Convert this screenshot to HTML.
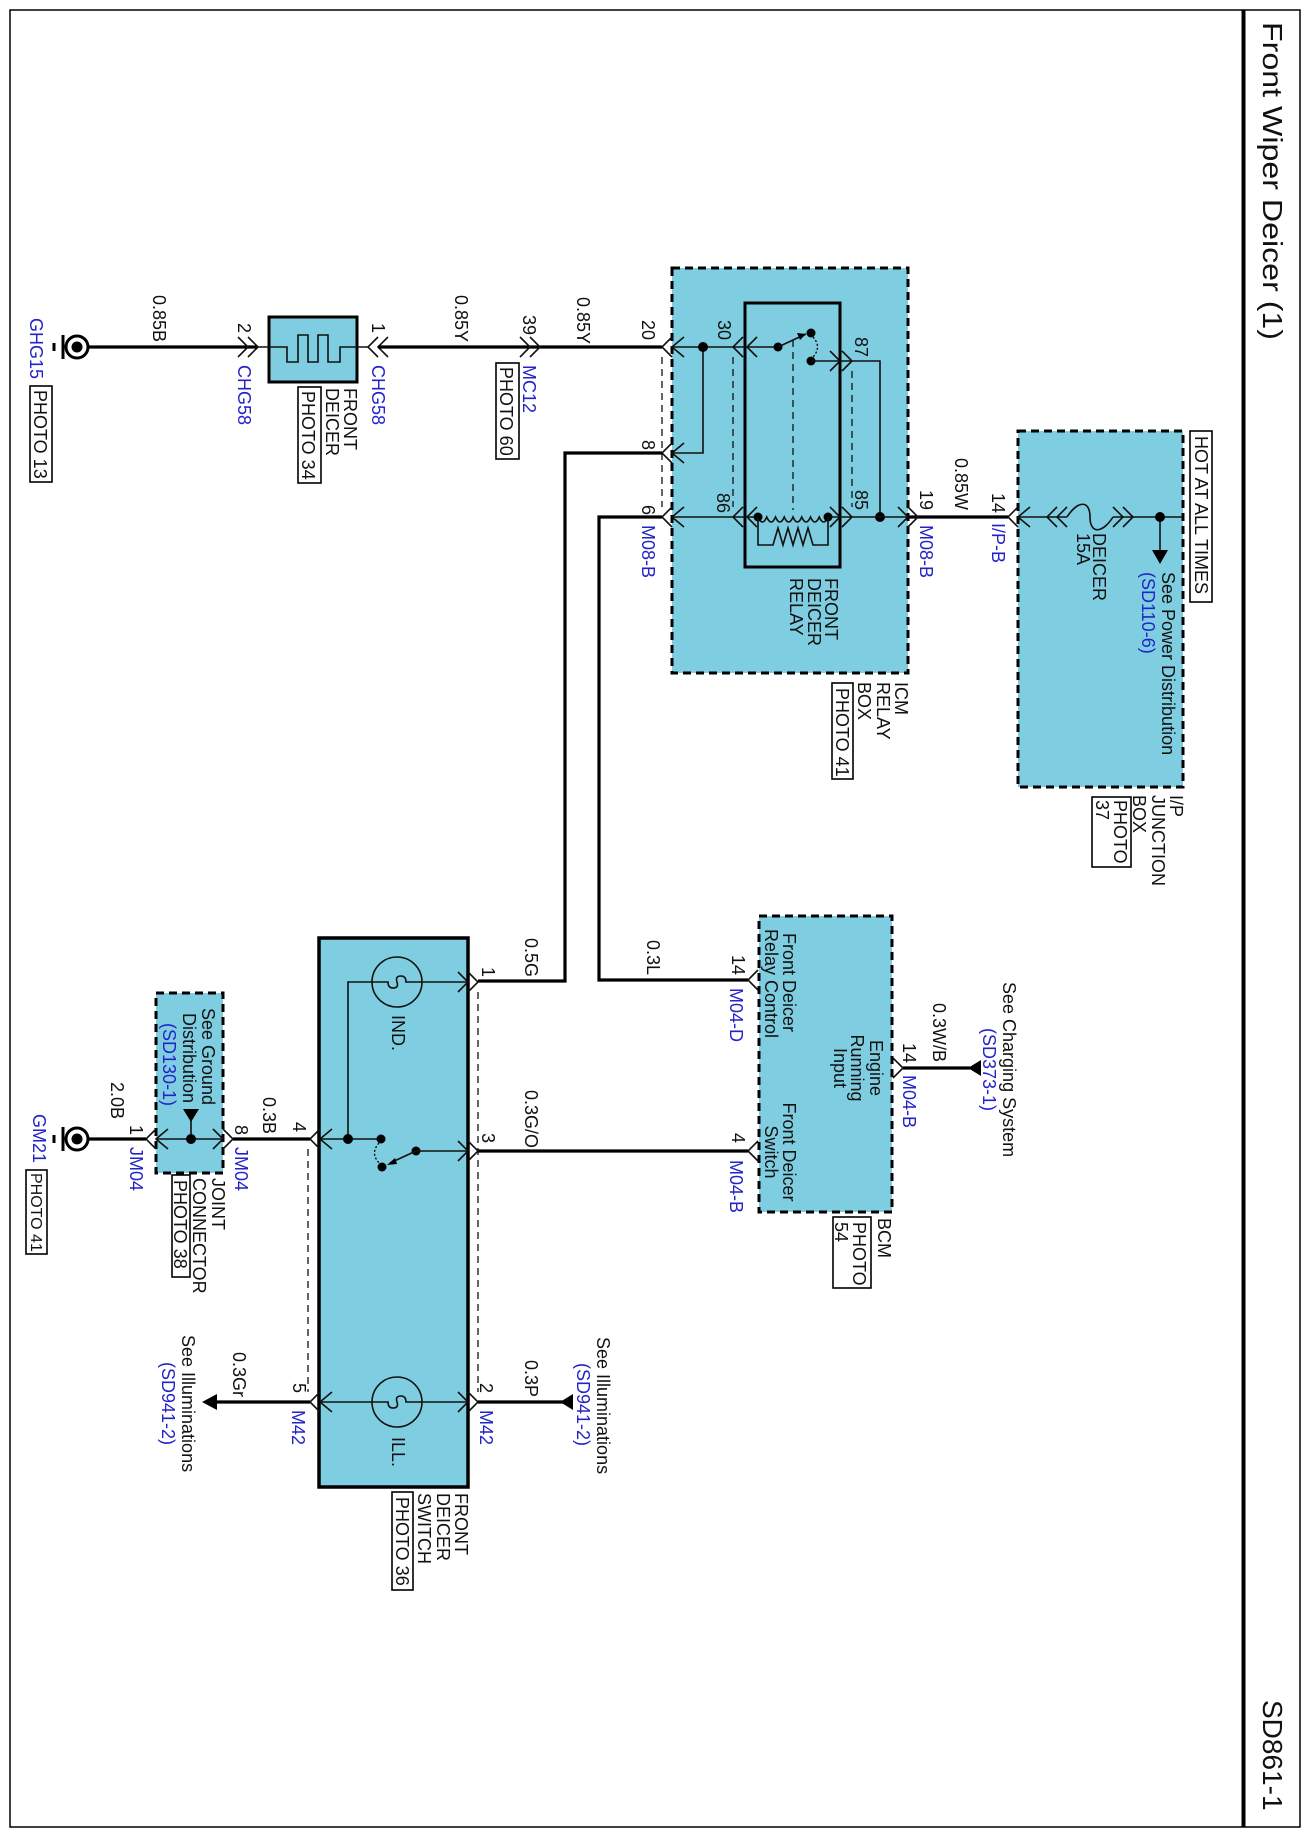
<!DOCTYPE html>
<html><head><meta charset="utf-8"><style>
html,body{margin:0;padding:0;background:#fff}
svg{display:block}
text{font-family:"Liberation Sans",Arial,sans-serif;font-size:18px;fill:#111}
.b{fill:#2323c8}
.t{font-size:28px}
.thin{stroke:#111;stroke-width:1.6;fill:none}
.w{stroke:#000;stroke-width:3.2;fill:none}
.d{stroke:#111;stroke-width:1.3;fill:none;stroke-dasharray:7,5}
.box{fill:#7fcde0;stroke:#000;stroke-width:3;stroke-dasharray:8,5}
.ph{fill:none;stroke:#000;stroke-width:1.6}
</style></head><body>
<svg width="1308" height="1836" viewBox="0 0 1308 1836" xmlns="http://www.w3.org/2000/svg">
<!-- frame -->
<rect x="10" y="10" width="1290" height="1817" fill="none" stroke="#000" stroke-width="1.5"/>
<line x1="1243.5" y1="10" x2="1243.5" y2="1827" stroke="#000" stroke-width="4"/>
<text class="t" transform="translate(1263,22) rotate(90)" textLength="318" lengthAdjust="spacingAndGlyphs">Front Wiper Deicer (1)</text>
<text class="t" transform="translate(1263,1700) rotate(90)">SD861-1</text>

<!-- component boxes -->
<rect class="box" x="672" y="268" width="236" height="405"/>
<rect class="box" x="1018" y="431" width="165" height="356"/>
<rect class="box" x="759" y="916" width="133" height="296"/>
<rect class="box" x="156" y="993" width="67" height="180"/>
<rect x="319" y="938" width="149" height="549" fill="#7fcde0" stroke="#000" stroke-width="3.5"/>
<rect x="269" y="317" width="88" height="65" fill="#7fcde0" stroke="#000" stroke-width="3"/>
<rect x="745" y="303" width="95" height="264" fill="none" stroke="#000" stroke-width="3"/>

<!-- ground GHG15 -->
<g>
<circle cx="77" cy="347" r="11" fill="#fff" stroke="#000" stroke-width="3"/>
<circle cx="77" cy="347" r="5.5" fill="#000"/>
<line x1="63" y1="335" x2="63" y2="359" stroke="#000" stroke-width="3"/>
<line x1="54" y1="343" x2="54" y2="351" stroke="#000" stroke-width="3"/>
</g>
<!-- ground GM21 -->
<g>
<circle cx="77" cy="1139" r="11" fill="#fff" stroke="#000" stroke-width="3"/>
<circle cx="77" cy="1139" r="5.5" fill="#000"/>
<line x1="63" y1="1127" x2="63" y2="1151" stroke="#000" stroke-width="3"/>
<line x1="54" y1="1135" x2="54" y2="1143" stroke="#000" stroke-width="3"/>
</g>

<!-- top wire -->
<path class="w" d="M89,347 H258"/>
<path class="thin" d="M238,337 L248,347 L238,357 M248,337 L258,347 L248,357"/>
<path class="thin" d="M258,347 H287 V362 H298 V335 H308 V362 H318 V335 H328 V362 H340 V347 H368"/>
<path class="thin" d="M378,337 L368,347 L378,357 M388,337 L378,347 L388,357"/>
<path class="w" d="M378,347 H662"/>
<path class="thin" d="M520,337 L530,347 L520,357 M530,337 L540,347 L530,357"/>

<!-- ICM relay box internals -->
<path class="thin" d="M672,337 L662,347 L672,357 M684,337 L672,347 L684,357"/>
<path class="thin" d="M672,443 L662,453 L672,463 M684,443 L672,453 L684,463"/>
<path class="thin" d="M672,507 L662,517 L672,527 M684,507 L672,517 L684,527"/>
<path class="thin" d="M672,347 H778 M703,347 V453 H672"/>
<circle cx="703" cy="347" r="5" fill="#000"/>
<path class="thin" d="M743,337 L733,347 L743,357 M757,337 L747,347 L757,357"/>
<circle cx="778" cy="347" r="4.5" fill="#000"/>
<path class="thin" d="M778,347 L806,334"/>
<path d="M806,334 L797,333 L800,340 Z" fill="#000"/>
<circle cx="811" cy="333" r="4.5" fill="#000"/>
<circle cx="811" cy="361" r="4.5" fill="#000"/>
<path d="M813,337 Q822,347 813,357" fill="none" stroke="#000" stroke-width="1.3" stroke-dasharray="2,2"/>
<path class="thin" d="M811,361 H880 V517 M830,351 L840,361 L830,371 M842,351 L852,361 L842,371"/>
<circle cx="880" cy="517" r="5" fill="#000"/>
<path class="thin" d="M672,517 H758 M743,507 L733,517 L743,527 M757,507 L747,517 L757,527"/>
<path class="thin" d="M758,517 q4.4,10 8.75,0 q4.4,10 8.75,0 q4.4,10 8.75,0 q4.4,10 8.75,0 q4.4,10 8.75,0 q4.4,10 8.75,0 q4.4,10 8.75,0 q4.4,10 8.75,0"/>
<circle cx="758" cy="517" r="4.5" fill="#000"/>
<circle cx="828" cy="517" r="4.5" fill="#000"/>
<path class="thin" d="M758,517 V545 H773 L778,528 L783,545 L788,528 L793,545 L798,528 L803,545 L808,528 L813,545 H828 V517"/>
<path class="thin" d="M828,517 H908 M830,507 L840,517 L830,527 M842,507 L852,517 L842,527"/>
<path class="thin" d="M898,507 L908,517 L898,527"/>
<path class="d" d="M662,357 V507 M733,357 V507 M793,340 V510 M852,371 V507"/>

<!-- wires from ICM -->
<path class="w" d="M662,453 H565 V981 H478"/>
<path class="w" d="M662,517 H599 V980 H748"/>
<path class="w" d="M908,517 H1008"/>
<path class="thin" d="M908,507 L918,517 L908,527"/>
<path class="thin" d="M1018,507 L1008,517 L1018,527 M1030,507 L1018,517 L1030,527"/>

<!-- I/P junction internals -->
<path class="thin" d="M1018,517 H1067"/>
<path class="thin" d="M1057,507 L1047,517 L1057,527 M1067,507 L1057,517 L1067,527"/>
<path class="thin" d="M1067,517 C1078,500 1090,500 1090,517 C1090,534 1102,534 1113,517"/>
<path class="thin" d="M1113,507 L1123,517 L1113,527 M1123,507 L1133,517 L1123,527"/>
<path class="thin" d="M1113,517 H1183 M1160,517 V551"/>
<circle cx="1160" cy="517" r="5" fill="#000"/>
<path d="M1152,550 H1168 L1160,564 Z" fill="#000"/>
<rect class="ph" x="1190" y="431" width="22" height="171" fill="#fff"/>

<!-- BCM -->
<path class="thin" d="M758,970 L748,980 L758,990"/>
<path class="thin" d="M758,1141 L748,1151 L758,1161"/>
<path class="thin" d="M893,1058 L903,1068 L893,1078"/>
<path class="w" d="M903,1068 H970"/>
<path d="M968,1068 L981,1060 L981,1076 Z" fill="#000"/>

<!-- switch -->
<path class="w" d="M478,1151 H748"/>
<path class="thin" d="M458,972 L468,982 L458,992 M468,972 L478,982 L468,992"/>
<path class="thin" d="M458,1141 L468,1151 L458,1161 M468,1141 L478,1151 L468,1161"/>
<path class="thin" d="M458,1392 L468,1402 L458,1412 M468,1392 L478,1402 L468,1412"/>
<path class="thin" d="M320,1129 L310,1139 L320,1149 M332,1129 L320,1139 L332,1149"/>
<path class="thin" d="M320,1392 L310,1402 L320,1412 M332,1392 L320,1402 L332,1412"/>
<circle cx="397" cy="982" r="25" fill="none" stroke="#111" stroke-width="1.6"/>
<path class="thin" d="M468,982 H406 q0,-6 -5,-6 q-6,0 -4,6 q2,6 -4,6 q-5,0 -5,-6 H348 V1139"/>
<circle cx="397" cy="1402" r="25" fill="none" stroke="#111" stroke-width="1.6"/>
<path class="thin" d="M468,1402 H406 q0,-6 -5,-6 q-6,0 -4,6 q2,6 -4,6 q-5,0 -5,-6 H320"/>
<path class="thin" d="M320,1139 H381"/>
<circle cx="348" cy="1139" r="5" fill="#000"/>
<circle cx="381" cy="1139" r="4.5" fill="#000"/>
<circle cx="382" cy="1167" r="4.5" fill="#000"/>
<circle cx="416" cy="1151" r="4.5" fill="#000"/>
<path d="M379,1143 Q370,1153 379,1163" fill="none" stroke="#000" stroke-width="1.3" stroke-dasharray="2,2"/>
<path class="thin" d="M416,1151 L390,1163 M416,1151 H468"/>
<path d="M387,1165 L395,1158 L397,1164 Z" fill="#000"/>
<path class="d" d="M308,1149 V1392 M478,992 V1392"/>
<path class="w" d="M310,1402 H216"/>
<path d="M202,1402 L217,1394 L217,1410 Z" fill="#000"/>
<path class="w" d="M478,1402 H572"/>
<path d="M560,1402 L573,1394 L573,1410 Z" fill="#000"/>

<!-- joint connector -->
<path class="w" d="M310,1139 H233"/>
<path class="thin" d="M223,1129 L233,1139 L223,1149 M213,1129 L223,1139 L213,1149"/>
<path class="thin" d="M156,1139 H223 M191,1139 V1118"/>
<circle cx="191" cy="1139" r="5" fill="#000"/>
<path d="M183,1109 H199 L191,1122 Z" fill="#000"/>
<path class="thin" d="M156,1129 L146,1139 L156,1149 M168,1129 L156,1139 L168,1149"/>
<path class="w" d="M146,1139 H89"/>

<!-- photo boxes -->
<rect class="ph" x="30" y="386" width="22" height="96"/>
<rect class="ph" x="298" y="387" width="23" height="96"/>
<rect class="ph" x="496" y="363" width="23" height="96"/>
<rect class="ph" x="832" y="683" width="21" height="96"/>
<rect class="ph" x="1092" y="797" width="39" height="70"/>
<rect class="ph" x="833" y="1217" width="38" height="71"/>
<rect class="ph" x="172" y="1175" width="18" height="102"/>
<rect class="ph" x="26" y="1170" width="21" height="84"/>
<rect class="ph" x="392" y="1492" width="21" height="98"/>

<!-- texts -->
<g>
<text class="b" transform="translate(30,318) rotate(90)">GHG15</text>
<text transform="translate(34,390) rotate(90)">PHOTO 13</text>
<text transform="translate(153,295) rotate(90)">0.85B</text>
<text transform="translate(238,323) rotate(90)">2</text>
<text class="b" transform="translate(238,365) rotate(90)">CHG58</text>
<text transform="translate(344,388) rotate(90)">FRONT</text>
<text transform="translate(326,388) rotate(90)">DEICER</text>
<text transform="translate(302,391) rotate(90)">PHOTO 34</text>
<text transform="translate(372,323) rotate(90)">1</text>
<text class="b" transform="translate(372,365) rotate(90)">CHG58</text>
<text transform="translate(455,295) rotate(90)">0.85Y</text>
<text transform="translate(523,315) rotate(90)">39</text>
<text class="b" transform="translate(523,365) rotate(90)">MC12</text>
<text transform="translate(500,367) rotate(90)">PHOTO 60</text>
<text transform="translate(577,297) rotate(90)">0.85Y</text>
<text transform="translate(642,320) rotate(90)">20</text>
<text transform="translate(642,440) rotate(90)">8</text>
<text transform="translate(642,505) rotate(90)">6</text>
<text class="b" transform="translate(642,525) rotate(90)">M08-B</text>
<text transform="translate(718,320) rotate(90)">30</text>
<text transform="translate(717,493) rotate(90)">86</text>
<text transform="translate(855,337) rotate(90)">87</text>
<text transform="translate(855,490) rotate(90)">85</text>
<text transform="translate(825,578) rotate(90)">FRONT</text>
<text transform="translate(808,578) rotate(90)">DEICER</text>
<text transform="translate(790,578) rotate(90)">RELAY</text>
<text transform="translate(895,682) rotate(90)">ICM</text>
<text transform="translate(877,682) rotate(90)">RELAY</text>
<text transform="translate(858,682) rotate(90)">BOX</text>
<text transform="translate(836,688) rotate(90)">PHOTO 41</text>
<text transform="translate(920,490) rotate(90)">19</text>
<text class="b" transform="translate(920,525) rotate(90)">M08-B</text>
<text transform="translate(955,458) rotate(90)">0.85W</text>
<text transform="translate(992,493) rotate(90)">14</text>
<text class="b" transform="translate(992,523) rotate(90)">I/P-B</text>
<text transform="translate(1093,533) rotate(90)">DEICER</text>
<text transform="translate(1077,533) rotate(90)">15A</text>
<text transform="translate(1162,572) rotate(90)">See Power Distribution</text>
<text class="b" transform="translate(1142,572) rotate(90)">(SD110-6)</text>
<text transform="translate(1195,436) rotate(90)">HOT AT ALL TIMES</text>
<text transform="translate(1170,795) rotate(90)">I/P</text>
<text transform="translate(1152,795) rotate(90)">JUNCTION</text>
<text transform="translate(1133,795) rotate(90)">BOX</text>
<text transform="translate(1114,800) rotate(90)">PHOTO</text>
<text transform="translate(1096,800) rotate(90)">37</text>
<text transform="translate(525,938) rotate(90)">0.5G</text>
<text transform="translate(482,967) rotate(90)">1</text>
<text transform="translate(647,940) rotate(90)">0.3L</text>
<text transform="translate(732,955) rotate(90)">14</text>
<text class="b" transform="translate(730,988) rotate(90)">M04-D</text>
<text transform="translate(783,933) rotate(90)">Front Deicer</text>
<text transform="translate(765,929) rotate(90)">Relay Control</text>
<text text-anchor="middle" transform="translate(870,1068) rotate(90)">Engine</text>
<text text-anchor="middle" transform="translate(851,1068) rotate(90)">Running</text>
<text text-anchor="middle" transform="translate(834,1068) rotate(90)">Input</text>
<text text-anchor="middle" transform="translate(783,1152) rotate(90)">Front Deicer</text>
<text text-anchor="middle" transform="translate(765,1152) rotate(90)">Switch</text>
<text transform="translate(903,1043) rotate(90)">14</text>
<text class="b" transform="translate(903,1075) rotate(90)">M04-B</text>
<text transform="translate(933,1003) rotate(90)">0.3W/B</text>
<text transform="translate(1003,982) rotate(90)">See Charging System</text>
<text class="b" transform="translate(983,1028) rotate(90)">(SD373-1)</text>
<text transform="translate(878,1218) rotate(90)">BCM</text>
<text transform="translate(853,1222) rotate(90)">PHOTO</text>
<text transform="translate(835,1222) rotate(90)">54</text>
<text transform="translate(732,1133) rotate(90)">4</text>
<text class="b" transform="translate(730,1160) rotate(90)">M04-B</text>
<text transform="translate(525,1090) rotate(90)">0.3G/O</text>
<text transform="translate(482,1133) rotate(90)">3</text>
<text transform="translate(392,1015) rotate(90)">IND.</text>
<text transform="translate(392,1437) rotate(90)">ILL.</text>
<text transform="translate(293,1122) rotate(90)">4</text>
<text transform="translate(263,1097) rotate(90)">0.3B</text>
<text transform="translate(235,1125) rotate(90)">8</text>
<text class="b" transform="translate(235,1147) rotate(90)">JM04</text>
<text transform="translate(202,1008) rotate(90)">See Ground</text>
<text transform="translate(183,1013) rotate(90)">Distribution</text>
<text class="b" transform="translate(163,1023) rotate(90)">(SD130-1)</text>
<text transform="translate(212,1178) rotate(90)">JOINT</text>
<text transform="translate(193,1178) rotate(90)">CONNECTOR</text>
<text transform="translate(174,1180) rotate(90)">PHOTO 38</text>
<text transform="translate(130,1125) rotate(90)">1</text>
<text class="b" transform="translate(130,1147) rotate(90)">JM04</text>
<text transform="translate(111,1082) rotate(90)">2.0B</text>
<text class="b" transform="translate(33,1114) rotate(90)">GM21</text>
<text style="font-size:16px" transform="translate(31,1173) rotate(90)">PHOTO 41</text>
<text transform="translate(293,1383) rotate(90)">5</text>
<text class="b" transform="translate(292,1410) rotate(90)">M42</text>
<text transform="translate(480,1383) rotate(90)">2</text>
<text class="b" transform="translate(480,1410) rotate(90)">M42</text>
<text transform="translate(233,1352) rotate(90)">0.3Gr</text>
<text transform="translate(182,1335) rotate(90)">See Illuminations</text>
<text class="b" transform="translate(162,1362) rotate(90)">(SD941-2)</text>
<text transform="translate(525,1360) rotate(90)">0.3P</text>
<text transform="translate(597,1337) rotate(90)">See Illuminations</text>
<text class="b" transform="translate(577,1363) rotate(90)">(SD941-2)</text>
<text transform="translate(455,1493) rotate(90)">FRONT</text>
<text transform="translate(437,1493) rotate(90)">DEICER</text>
<text transform="translate(418,1493) rotate(90)">SWITCH</text>
<text transform="translate(396,1497) rotate(90)">PHOTO 36</text>
</g>
</svg>
</body></html>
